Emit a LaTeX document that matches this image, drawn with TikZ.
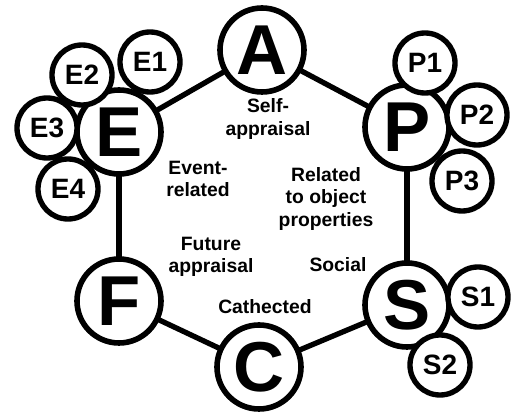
\documentclass[tikz,border=0pt]{standalone}
\usepackage{fontspec}
\setmainfont{Liberation Sans}

\begin{document}
\begin{tikzpicture}[x=0.75pt, y=-0.75pt,
  big/.style={circle, draw, fill=white, line width=4.2pt, minimum size=63pt,
    inner sep=0pt, font=\fontsize{53}{53}\selectfont\bfseries},
  small/.style={circle, draw, fill=white, line width=4pt, minimum size=45pt,
    inner sep=0pt, font=\fontsize{21}{21}\selectfont\bfseries},
  lbl/.style={align=center, inner sep=0pt, font=\fontsize{14.5}{17}\selectfont\bfseries},
  link/.style={line width=4pt, shorten <=-1.8pt, shorten >=-1.8pt}]
  \useasboundingbox (0,0) rectangle (512,413);

  % main ring
  \foreach \n/\x/\y in {A/262/50, E/119/132, P/407/127, F/119/301, S/407/305, C/259/367} {
    \node[big] (\n) at (\x, \y) {\n};
  }
  \draw[link] (A) -- (P);
  \draw[link] (P) -- (S);
  \draw[link] (S) -- (C);
  \draw[link] (C) -- (F);
  \draw[link] (F) -- (E);
  \draw[link] (E) -- (A);

  % satellites
  \foreach \n/\x/\y in {E1/150/62, E2/82/75, E3/47/128, E4/68/189,
                        P1/425/63, P2/477/115, P3/462/181,
                        S1/478/297, S2/440/365} {
    \node[small] (\n) at (\x, \y) {\n};
  }

  % inner labels
  \node[lbl] (self) at (268, 119) {Self-\\appraisal};
  \node[lbl] (event) at (198, 179) {Event-\\related};
  \node[lbl] (object) at (326, 199) {Related\\to object\\properties};
  \node[lbl] (future) at (211, 257) {Future\\appraisal};
  \node[lbl] (social) at (338, 265) {Social};
  \node[lbl] (cath) at (265, 307) {Cathected};

\end{tikzpicture}
\end{document}
